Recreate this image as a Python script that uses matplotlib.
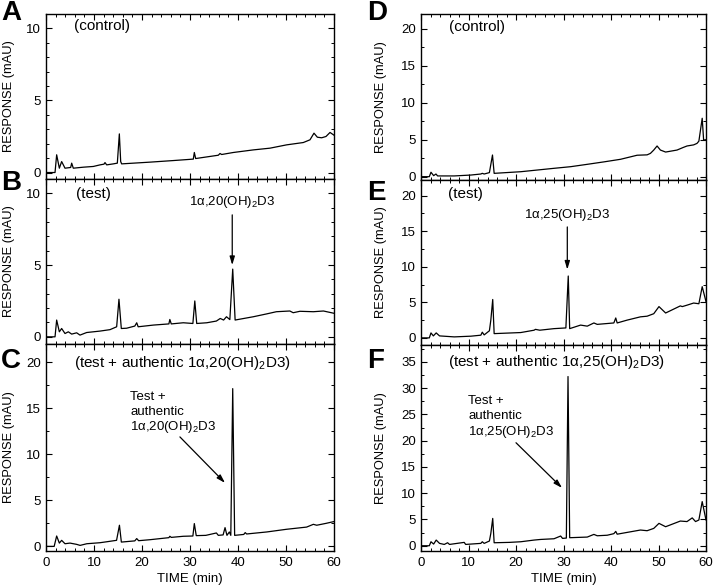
import matplotlib
matplotlib.use("Agg")
import matplotlib.pyplot as plt
from matplotlib.ticker import MultipleLocator

plt.rcParams['font.family'] = ['Liberation Sans', 'DejaVu Sans']
plt.rcParams['mathtext.fontset'] = 'custom'
plt.rcParams['mathtext.rm'] = 'Liberation Sans'

# chromatogram traces (time in min, response in mAU)
time_A = [0, 1.88, 2.22, 2.78, 3.26, 3.96, 5.14, 5.35, 5.69, 7.78, 9.86, 11.25, 12.08, 12.29,
          12.64, 14.03, 14.86, 15.28, 15.56, 15.76, 21.67, 26.53, 30.69, 30.9, 31.18, 35.9,
          36.25, 36.6, 39.03, 43.2, 46.67, 50.14, 53.6, 55.0, 55.83, 56.53, 57.43, 58.33,
          59.17, 60]
resp_A = [0, 0, 1.23, 0.30, 0.76, 0.30, 0.35, 0.65, 0.30, 0.37, 0.42, 0.53, 0.58, 0.69,
          0.53, 0.60, 0.65, 2.68, 0.76, 0.60, 0.72, 0.83, 0.93, 1.39, 0.97, 1.20,
          1.32, 1.25, 1.39, 1.57, 1.69, 1.92, 2.08, 2.27, 2.73, 2.45, 2.41, 2.50,
          2.78, 2.59]

time_B = [0, 1.88, 2.22, 2.78, 3.26, 3.96, 4.65, 5.35, 6.39, 7.08, 8.47, 11.25, 13.33, 14.72,
          15.2, 15.69, 16.8, 18.5, 18.9, 19.2, 22.4, 25.6, 25.8, 26.1, 28.6, 30.6, 31.0,
          31.4, 33.5, 35.5, 36.3, 37.0, 37.6, 38.3, 38.9, 39.4, 43.2, 46.0, 48.0, 50.8,
          51.5, 52.9, 55.7, 57.8, 60]
resp_B = [0, 0, 1.17, 0.35, 0.58, 0.23, 0.35, 0.19, 0.28, 0.12, 0.30, 0.40, 0.50, 0.70,
          2.62, 0.58, 0.60, 0.75, 0.98, 0.70, 0.82, 0.90, 1.21, 0.90, 0.98, 0.93, 2.50,
          0.93, 0.98, 1.10, 1.28, 1.17, 1.40, 1.20, 4.72, 1.17, 1.40, 1.60, 1.75, 1.80,
          1.68, 1.78, 1.75, 1.80, 1.64]

time_C = [0, 1.7, 2.22, 2.78, 3.26, 3.96, 5.0, 6.4, 7.1, 8.5, 11.25, 12.6, 14.7, 15.3, 15.7,
          18.5, 18.9, 19.3, 21.7, 25.6, 25.8, 26.1, 28.6, 30.6, 30.9, 31.3, 33.3, 35.5,
          35.9, 36.9, 37.3, 37.7, 38.2, 38.5, 38.9, 39.3, 41.2, 41.5, 41.8, 46, 50.1,
          54.3, 55.7, 56.4, 58.3, 60]
resp_C = [0, 0, 1.13, 0.36, 0.66, 0.29, 0.36, 0.22, 0.11, 0.29, 0.40, 0.50, 0.66, 2.30, 0.47,
          0.60, 0.85, 0.62, 0.73, 0.95, 1.10, 0.98, 1.10, 1.13, 2.48, 1.17, 1.20, 1.46,
          1.20, 1.25, 2.04, 1.20, 1.57, 1.20, 17.15, 1.20, 1.30, 1.50, 1.35, 1.57, 1.86,
          2.10, 2.40, 2.30, 2.50, 2.70]

time_D = [0, 1.75, 2.1, 2.66, 3.15, 3.5, 7, 10.5, 12.6, 12.9, 13.3, 14.4, 15.05, 15.4, 21,
          28, 31.5, 35, 38.5, 42, 45.5, 47.6, 48.3, 49, 49.7, 50.4, 51.5, 53.9, 55.2,
          56, 57.4, 58.1, 58.5, 59.2, 59.5, 60]
resp_D = [0, 0, 0.60, 0.14, 0.36, 0.10, 0.10, 0.22, 0.36, 0.45, 0.36, 0.55, 2.93, 0.45, 0.67,
          1.13, 1.35, 1.67, 2.00, 2.35, 2.90, 2.95, 3.15, 3.60, 4.15, 3.60, 3.33, 3.60, 3.95,
          4.15, 4.30, 4.50, 4.80, 7.90, 4.95, 5.00]

time_E = [0, 1.75, 2.1, 2.6, 3.2, 3.9, 7, 10.5, 12.6, 12.9, 13.3, 14.4, 14.7, 15.1, 15.4, 21,
          23.8, 24.1, 25, 28, 30.5, 31.0, 31.3, 33.6, 35, 36.4, 37.1, 40.6, 41, 41.3, 43.4,
          46.2, 47.6, 49, 50.1, 51.5, 54.6, 55, 56, 57.4, 58.5, 59.2, 60]
resp_E = [0, 0, 0.70, 0.28, 0.70, 0.28, 0.14, 0.24, 0.38, 0.80, 0.42, 1.00, 2.50, 5.40, 0.60, 0.75,
          1.08, 1.20, 1.08, 1.30, 1.40, 8.70, 1.30, 1.80, 1.65, 2.10, 1.90, 2.10, 2.80, 2.10, 2.50,
          2.96, 3.05, 3.40, 4.40, 3.50, 4.50, 4.40, 4.60, 4.90, 4.80, 7.20, 5.10]

time_F = [0, 1.75, 2.1, 2.66, 3.2, 3.9, 4.9, 5.6, 6.0, 9.1, 9.4, 12.6, 12.9, 13.3, 14.4, 14.7,
          15.1, 15.4, 18.6, 21, 23.8, 25.2, 28, 29.4, 29.8, 30.6, 30.95, 31.3, 35, 36.4,
          37.1, 39.2, 40.6, 41, 41.3, 43.4, 46.2, 47.6, 49, 50.1, 51.5, 54.6, 56, 57.1,
          57.8, 58.5, 59.2, 60]
resp_F = [0, 0, 0.76, 0.32, 1.08, 0.45, 0.25, 0.57, 0.25, 0.64, 0.25, 0.45, 0.76, 0.45, 0.90, 2.35,
          5.20, 0.57, 0.64, 0.76, 1.08, 1.20, 1.33, 1.85, 1.40, 1.46, 32.2, 1.53, 1.65, 2.16,
          1.90, 2.00, 2.30, 2.73, 2.20, 2.54, 2.99, 2.86, 3.30, 4.26, 3.62, 4.70, 4.60, 5.30,
          4.60, 4.90, 8.40, 4.90]

titles = ['(control)', '(test)', '(test + authentic 1α,20(OH)$_2$D3)',
          '(control)', '(test)', '(test + authentic 1α,25(OH)$_2$D3)']
letters = ['A', 'B', 'C', 'D', 'E', 'F']

W, H = 714, 588
fig = plt.figure(figsize=(W / 100, H / 100), dpi=100)


def px_axes(x0, y0, x1, y1):
    return fig.add_axes([x0 / W, 1 - y1 / H, (x1 - x0) / W, (y1 - y0) / H])


boxes = [(46, 14, 334, 179), (46, 179, 334, 344), (46, 344, 334, 551),
         (421, 14, 706, 180), (421, 180, 706, 345), (421, 345, 706, 551)]
ylims = [(-0.45, 11), (-0.5, 11), (-0.5, 22), (-0.45, 22), (-1, 22.2), (-1, 38.2)]
yminor = [1, 1, 2.5, 2.5, 2.5, 2.5]
traces = [(time_A, resp_A), (time_B, resp_B), (time_C, resp_C),
          (time_D, resp_D), (time_E, resp_E), (time_F, resp_F)]
title_pos = [(5.8, 10.2), (6.25, 9.95), (5.8, 19.9), (6.0, 20.2), (5.7, 20.2), (5.7, 34.9)]
letter_pos = [(1, 0.5), (1, 170), (1, 348), (367, 0.5), (367, 180), (367, 348)]

axes = []
for i in range(6):
    ax = px_axes(*boxes[i])
    axes.append(ax)
    t, r = traces[i]
    ax.plot(t, r, color='black', lw=0.9)
    ax.set_xlim(0, 60)
    ax.set_ylim(*ylims[i])
    ax.xaxis.set_major_locator(MultipleLocator(10))
    ax.xaxis.set_minor_locator(MultipleLocator(2))
    ax.yaxis.set_major_locator(MultipleLocator(5))
    ax.yaxis.set_minor_locator(MultipleLocator(yminor[i]))
    ax.tick_params(which='both', direction='in', top=True, right=True, labelsize=9.5)
    ax.tick_params(which='major', length=4, width=0.8)
    ax.tick_params(which='minor', length=2.5, width=0.7)
    for s in ax.spines.values():
        s.set_linewidth(1.0)
    if i in (2, 5):
        ax.set_xlabel('TIME (min)', fontsize=9.5, labelpad=3)
        ax.tick_params(axis='x', pad=4)
    else:
        ax.tick_params(axis='x', labelbottom=False)
    ax.set_ylabel('RESPONSE (mAU)', fontsize=9.3)
    # label anchor is its right edge once rotated
    ax.yaxis.set_label_coords(-0.106 if i < 3 else -0.119, 0.5)
    ax.text(title_pos[i][0], title_pos[i][1], titles[i], fontsize=11, va='center', ha='left')
    fig.text(letter_pos[i][0] / W, 1 - letter_pos[i][1] / H, letters[i],
             fontsize=20, fontweight='bold', va='top', ha='left')

arrow = dict(arrowstyle='-|>,head_length=0.5,head_width=0.15', color='black', lw=0.9,
             shrinkA=0, shrinkB=0)

# B and E: vertical arrows to the product peak
axes[1].annotate('', xy=(38.8, 5.0), xytext=(38.8, 8.5), arrowprops=arrow)
axes[1].text(38.8, 9.4, '1α,20(OH)$_2$D3', fontsize=9.5, ha='center', va='center')
axes[4].annotate('', xy=(30.8, 9.6), xytext=(30.8, 15.6), arrowprops=arrow)
axes[4].text(30.8, 17.3, '1α,25(OH)$_2$D3', fontsize=9.5, ha='center', va='center')

# C and F: diagonal arrows with three-line labels
for ax, x, ys, lab, start, tip in [
        (axes[2], 17.6, (16.2, 14.6, 13.0), '1α,20(OH)$_2$D3', (27.9, 11.9), (37.3, 6.9)),
        (axes[5], 9.9, (27.5, 24.6, 21.7), '1α,25(OH)$_2$D3', (20.0, 19.6), (29.7, 11.0))]:
    for y, s in zip(ys, ['Test +', 'authentic', lab]):
        ax.text(x, y, s, fontsize=9.5, ha='left', va='center')
    ax.annotate('', xy=tip, xytext=start, arrowprops=arrow)

fig.savefig('out.png', dpi=100)
